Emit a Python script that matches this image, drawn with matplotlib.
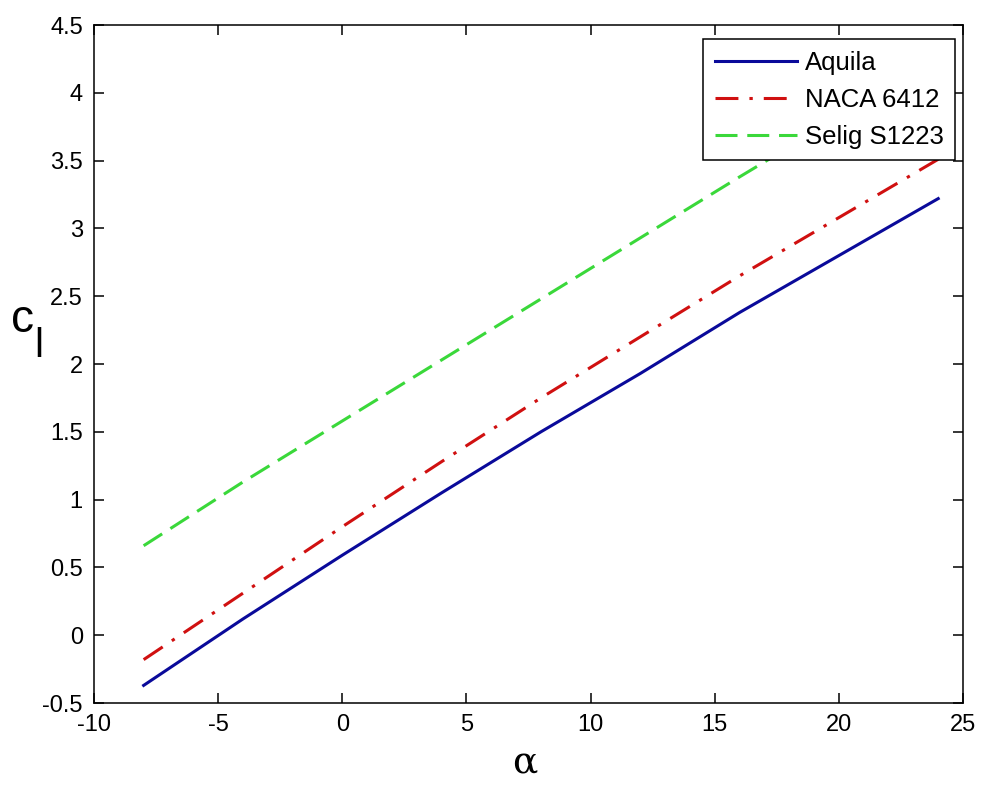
import matplotlib
matplotlib.use("Agg")
import matplotlib.pyplot as plt

plt.rcParams['font.family'] = ['Liberation Sans', 'DejaVu Sans']

# angle of attack (deg)
alpha = [-8, -4, 0, 4, 8, 12, 16, 20, 24]

# lift coefficient
cl_aquila = [-0.37, 0.12, 0.59, 1.05, 1.50, 1.93, 2.38, 2.80, 3.22]
cl_naca = [-0.18, 0.31, 0.80, 1.28, 1.75, 2.20, 2.65, 3.08, 3.51]
cl_selig = [0.66, 1.13, 1.58, 2.03, 2.48, 2.93, 3.38, 3.82, 4.26]

labels = ['Aquila', 'NACA 6412', 'Selig S1223']
xticks = [-10, -5, 0, 5, 10, 15, 20, 25]
yticks = [-0.5, 0, 0.5, 1, 1.5, 2, 2.5, 3, 3.5, 4, 4.5]

fig = plt.figure(figsize=(9.81, 7.87), dpi=100)
ax = fig.add_axes([0.0958, 0.1067, 0.8859, 0.8615])

ax.plot(alpha, cl_aquila, color='#0a0a9a', lw=2.2, label=labels[0])
ax.plot(alpha, cl_naca, color='#d01010', lw=2.2, dashes=(7.5, 3.6, 1.1, 3.6), label=labels[1])
ax.plot(alpha, cl_selig, color='#3ad83a', lw=2.2, dashes=(7.2, 3.2), label=labels[2])

ax.set_xlim(-10, 25)
ax.set_ylim(-0.5, 4.5)
ax.set_xticks(xticks)
ax.set_yticks(yticks)
ax.set_xticklabels([str(t) for t in xticks])
ax.set_yticklabels(['%g' % t for t in yticks])
ax.tick_params(direction='in', length=7, width=1.1, top=True, right=True,
               labelsize=17, pad=8, colors='black')
for s in ax.spines.values():
    s.set_linewidth(1.1)

# axis labels: alpha below, c with a big subscript l on the left
fig.text(525 / 981, 1 - 763 / 787, 'α', family='DejaVu Serif', fontsize=27,
         ha='center', va='center')
fig.text(11 / 981, 1 - 332 / 787, 'c', fontsize=33, ha='left', va='baseline')
fig.text(34 / 981, 1 - 357 / 787, 'l', fontsize=29, ha='left', va='baseline')

leg = ax.legend(loc='upper right', bbox_to_anchor=(0.991, 0.979), fontsize=18.5,
                handlelength=3.2, handletextpad=0.3, borderpad=0.45,
                labelspacing=0.5, borderaxespad=0, fancybox=False,
                framealpha=1, edgecolor='black')
leg.get_frame().set_linewidth(1.1)
leg.set_zorder(5)

fig.savefig('out.png', dpi=100)
